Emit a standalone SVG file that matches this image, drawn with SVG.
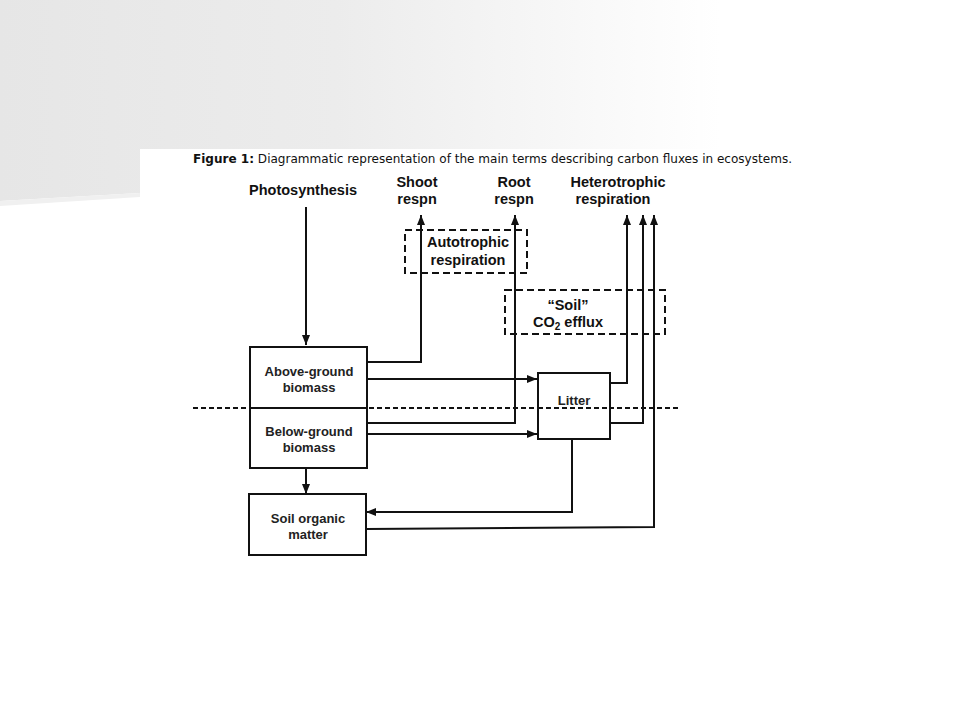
<svg xmlns="http://www.w3.org/2000/svg" width="960" height="720" viewBox="0 0 960 720">
<defs>
<linearGradient id="bg" x1="0" y1="0" x2="1" y2="0">
<stop offset="0" stop-color="#e6e6e6"/>
<stop offset="0.35" stop-color="#ececec"/>
<stop offset="0.75" stop-color="#ffffff"/>
<stop offset="1" stop-color="#ffffff"/>
</linearGradient>
<marker id="ah" markerWidth="10" markerHeight="8" refX="10" refY="4" orient="auto" markerUnits="userSpaceOnUse">
<path d="M0,0 L10,4 L0,8 Z" fill="#111"/>
</marker>
</defs>
<style>
.box{fill:#fff;stroke:#111;stroke-width:2}
.dbox{fill:none;stroke:#111;stroke-width:2;stroke-dasharray:7,4}
.t{font-family:"Liberation Sans",Arial,sans-serif;font-weight:bold;font-size:13px;fill:#222;text-anchor:middle}
.h{font-family:"Liberation Sans",Arial,sans-serif;font-weight:bold;font-size:14.5px;fill:#111;text-anchor:middle}
.c{fill:none;stroke:#111;stroke-width:2}
</style>
<rect width="960" height="720" fill="#fff"/>
<polygon points="0,0 960,0 960,149 140,149 140,193 0,201" fill="url(#bg)"/>
<polygon points="0,201 140,193 140,197 0,206" fill="#f0f0f0"/>
<text x="193" y="163" font-family="'DejaVu Sans Condensed','Liberation Sans',sans-serif" font-size="13" fill="#111" textLength="599" lengthAdjust="spacingAndGlyphs"><tspan font-weight="bold">Figure 1:</tspan> Diagrammatic representation of the main terms describing carbon fluxes in ecosystems.</text>
<g id="labels">
<text class="h" x="303" y="195">Photosynthesis</text>
<text class="h" x="417" y="187">Shoot</text>
<text class="h" x="417" y="204">respn</text>
<text class="h" x="514" y="187">Root</text>
<text class="h" x="514" y="204">respn</text>
<text class="h" x="618" y="187">Heterotrophic</text>
<text class="h" x="613" y="204">respiration</text>
</g>
<g id="autotrophic">
<rect class="dbox" x="405" y="230" width="122" height="43"/>
<text class="h" x="468" y="247">Autotrophic</text>
<text class="h" x="468" y="265">respiration</text>
</g>
<g id="soilco2">
<rect class="dbox" x="505" y="290" width="160" height="44"/>
<text class="h" x="568" y="310">“Soil”</text>
<text class="h" x="568" y="327">CO<tspan font-size="10" dy="3">2</tspan><tspan dy="-3"> efflux</tspan></text>
</g>
<line x1="193" y1="408" x2="678" y2="408" stroke="#111" stroke-width="2" stroke-dasharray="5,3"/>
<g id="connectors">
<path class="c" d="M306,207 V345" marker-end="url(#ah)"/>
<path class="c" d="M367,362 H421 V215" marker-end="url(#ah)"/>
<path class="c" d="M367,379 H537" marker-end="url(#ah)"/>
<path class="c" d="M367,423 H515 V215" marker-end="url(#ah)"/>
<path class="c" d="M367,434 H537" marker-end="url(#ah)"/>
<path class="c" d="M306,468 V494" marker-end="url(#ah)"/>
<path class="c" d="M572,439 V512 H366" marker-end="url(#ah)"/>
<path class="c" d="M610,383 H627 V215" marker-end="url(#ah)"/>
<path class="c" d="M610,423 H643 V215" marker-end="url(#ah)"/>
<path class="c" d="M366,529 L654,527 V215" marker-end="url(#ah)"/>
</g>
<g id="above">
<rect class="box" x="250" y="347" width="117" height="61"/>
<text class="t" x="309" y="376">Above-ground</text>
<text class="t" x="309" y="392">biomass</text>
</g>
<g id="below">
<rect class="box" x="250" y="408" width="117" height="60"/>
<text class="t" x="309" y="436">Below-ground</text>
<text class="t" x="309" y="452">biomass</text>
</g>
<g id="som">
<rect class="box" x="249" y="494" width="117" height="61"/>
<text class="t" x="308" y="523">Soil organic</text>
<text class="t" x="308" y="539">matter</text>
</g>
<g id="litter">
<rect class="box" x="538" y="373" width="72" height="66"/>
<text class="t" x="574" y="405">Litter</text>
</g>
<line x1="538" y1="408" x2="610" y2="408" stroke="#111" stroke-width="2" stroke-dasharray="5,3"/>
</svg>
